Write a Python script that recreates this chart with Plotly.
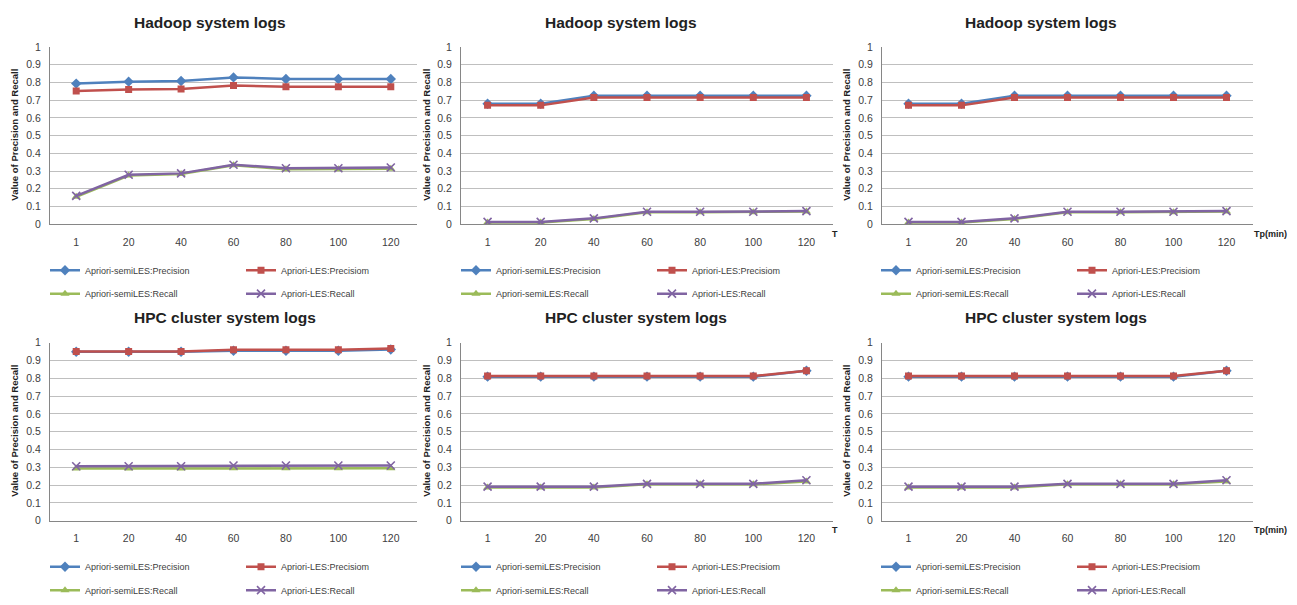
import plotly.graph_objects as go

W, H = 1297, 605

categories = ["1", "20", "40", "60", "80", "100", "120"]
series_names = ["Apriori-semiLES:Precision", "Apriori-LES:Precisiom",
                "Apriori-semiLES:Recall", "Apriori-LES:Recall"]

# Hadoop system logs (left chart)
hadoop_a_semi_prec = [0.794, 0.805, 0.809, 0.829, 0.820, 0.820, 0.820]
hadoop_a_les_prec = [0.752, 0.761, 0.763, 0.783, 0.776, 0.776, 0.776]
hadoop_a_semi_rec = [0.155, 0.275, 0.283, 0.333, 0.310, 0.310, 0.313]
hadoop_a_les_rec = [0.160, 0.279, 0.287, 0.336, 0.316, 0.316, 0.320]

# Hadoop system logs (middle / right charts)
hadoop_b_semi_prec = [0.680, 0.680, 0.726, 0.726, 0.726, 0.726, 0.726]
hadoop_b_les_prec = [0.671, 0.671, 0.715, 0.715, 0.715, 0.715, 0.715]
hadoop_b_semi_rec = [0.010, 0.010, 0.030, 0.068, 0.068, 0.068, 0.072]
hadoop_b_les_rec = [0.013, 0.013, 0.033, 0.070, 0.070, 0.070, 0.074]

# HPC cluster system logs (left chart)
hpc_a_semi_prec = [0.949, 0.949, 0.949, 0.954, 0.954, 0.954, 0.961]
hpc_a_les_prec = [0.950, 0.950, 0.950, 0.960, 0.960, 0.960, 0.967]
hpc_a_semi_rec = [0.293, 0.293, 0.293, 0.294, 0.294, 0.294, 0.294]
hpc_a_les_rec = [0.306, 0.306, 0.306, 0.310, 0.310, 0.310, 0.310]

# HPC cluster system logs (middle / right charts)
hpc_b_semi_prec = [0.809, 0.809, 0.809, 0.809, 0.809, 0.809, 0.842]
hpc_b_les_prec = [0.812, 0.812, 0.812, 0.812, 0.812, 0.812, 0.842]
hpc_b_semi_rec = [0.186, 0.186, 0.186, 0.204, 0.204, 0.204, 0.220]
hpc_b_les_rec = [0.191, 0.191, 0.191, 0.207, 0.207, 0.207, 0.227]

titles = ["Hadoop system logs", "Hadoop system logs", "Hadoop system logs",
          "HPC cluster system logs", "HPC cluster system logs", "HPC cluster system logs"]
x_titles = ["", "T", "Tp(min)", "", "T", "Tp(min)"]
y_title = "Value of Precision and Recall"

panel_data = [
    [hadoop_a_semi_prec, hadoop_a_les_prec, hadoop_a_semi_rec, hadoop_a_les_rec],
    [hadoop_b_semi_prec, hadoop_b_les_prec, hadoop_b_semi_rec, hadoop_b_les_rec],
    [hadoop_b_semi_prec, hadoop_b_les_prec, hadoop_b_semi_rec, hadoop_b_les_rec],
    [hpc_a_semi_prec, hpc_a_les_prec, hpc_a_semi_rec, hpc_a_les_rec],
    [hpc_b_semi_prec, hpc_b_les_prec, hpc_b_semi_rec, hpc_b_les_rec],
    [hpc_b_semi_prec, hpc_b_les_prec, hpc_b_semi_rec, hpc_b_les_rec],
]

colors = ["#4F81BD", "#C0504D", "#9BBB59", "#8064A2"]
FONT = "Liberation Sans, Arial, sans-serif"

# pixel geometry
cols_px = [(50, 417), (461, 833), (882, 1253)]
rows_px = [(42, 223), (344, 526)]
title_x_px = [132, 543, 963]
title_y_px = [17, 318]
ytitle_x_px = [15, 427, 847]
xtitle_x_px = [None, 835, 1270]
xtitle_y_px = [233, 536]
legend_origin_px = [45, 456, 876]
legend_rows_px = [(270, 294), (573, 597)]


def px_x(v):
    return v / W


def px_y(v):
    return 1 - v / H


fig = go.Figure()
layout = dict(
    width=W, height=H, margin=dict(l=0, r=0, t=0, b=0),
    paper_bgcolor="white", plot_bgcolor="white",
    font=dict(family=FONT, color="#404040"),
    annotations=[],
)

markers = [
    dict(symbol="diamond", size=8, color=colors[0]),
    dict(symbol="square", size=7, color=colors[1]),
    dict(symbol="triangle-up", size=8, color=colors[2]),
    dict(symbol="x-thin", size=8, color=colors[3], line=dict(width=1.6, color=colors[3])),
]

for p in range(6):
    r, c = divmod(p, 3)
    ax = "" if p == 0 else str(p + 1)
    xa, ya = "x" + ax, "y" + ax
    leg1 = "legend" if p == 0 else f"legend{2 * p + 1}"
    leg2 = f"legend{2 * p + 2}"
    for s in range(4):
        fig.add_trace(go.Scatter(
            x=categories, y=panel_data[p][s], name=series_names[s],
            mode="lines+markers", xaxis=xa, yaxis=ya,
            line=dict(color=colors[s], width=2.5),
            marker=markers[s],
            legend=leg1 if s < 2 else leg2,
            showlegend=True,
        ))
    x0, x1 = cols_px[c]
    y0, y1 = rows_px[r]
    layout["xaxis" + ax] = dict(
        domain=[px_x(x0), px_x(x1)], anchor=ya, type="category",
        range=[-0.5, 6.5], showgrid=False, showline=True, linecolor="#868686",
        linewidth=1, ticks="", tickfont=dict(size=10.5, color="#404040"),
        ticklabelstandoff=8, zeroline=False, fixedrange=True,
    )
    layout["yaxis" + ax] = dict(
        domain=[px_y(y1), px_y(y0)], anchor=xa, range=[0, 1], dtick=0.1,
        showgrid=True, gridcolor="#BFBFBF", gridwidth=1, showline=True,
        linecolor="#868686", linewidth=1, ticks="", zeroline=False,
        tickfont=dict(size=10.5, color="#404040"), ticklabelstandoff=6,
        tickformat="~g", fixedrange=True,
    )
    layout["annotations"].append(dict(
        text="<b>" + titles[p] + "</b>", xref="paper", yref="paper",
        x=px_x(title_x_px[c]), y=px_y(title_y_px[r]), xanchor="left", yanchor="middle",
        showarrow=False, font=dict(size=15.5, color="#222222", family=FONT),
    ))
    layout["annotations"].append(dict(
        text="<b>" + y_title + "</b>", xref="paper", yref="paper",
        x=px_x(ytitle_x_px[c]), y=px_y((y0 + y1) / 2 - 1), xanchor="center", yanchor="middle",
        textangle=-90, showarrow=False, font=dict(size=9.5, color="#222222", family=FONT),
    ))
    if x_titles[p]:
        layout["annotations"].append(dict(
            text="<b>" + x_titles[p] + "</b>", xref="paper", yref="paper",
            x=px_x(xtitle_x_px[c]), y=px_y(xtitle_y_px[r]), xanchor="center", yanchor="middle",
            showarrow=False, font=dict(size=9, color="#222222", family=FONT),
        ))
    for k, leg in enumerate([leg1, leg2]):
        layout[leg] = dict(
            orientation="h", x=px_x(legend_origin_px[c]), y=px_y(legend_rows_px[r][k]),
            xanchor="left", yanchor="middle", entrywidth=151, entrywidthmode="pixels",
            font=dict(size=9, color="#404040", family=FONT), bgcolor="rgba(0,0,0,0)",
            borderwidth=0, tracegroupgap=0, itemclick=False, itemdoubleclick=False,
        )

fig.update_layout(**layout)
fig.write_html("out.html", config={"displayModeBar": False},
               post_script="document.body.style.margin='0';document.body.style.overflow='hidden';")
